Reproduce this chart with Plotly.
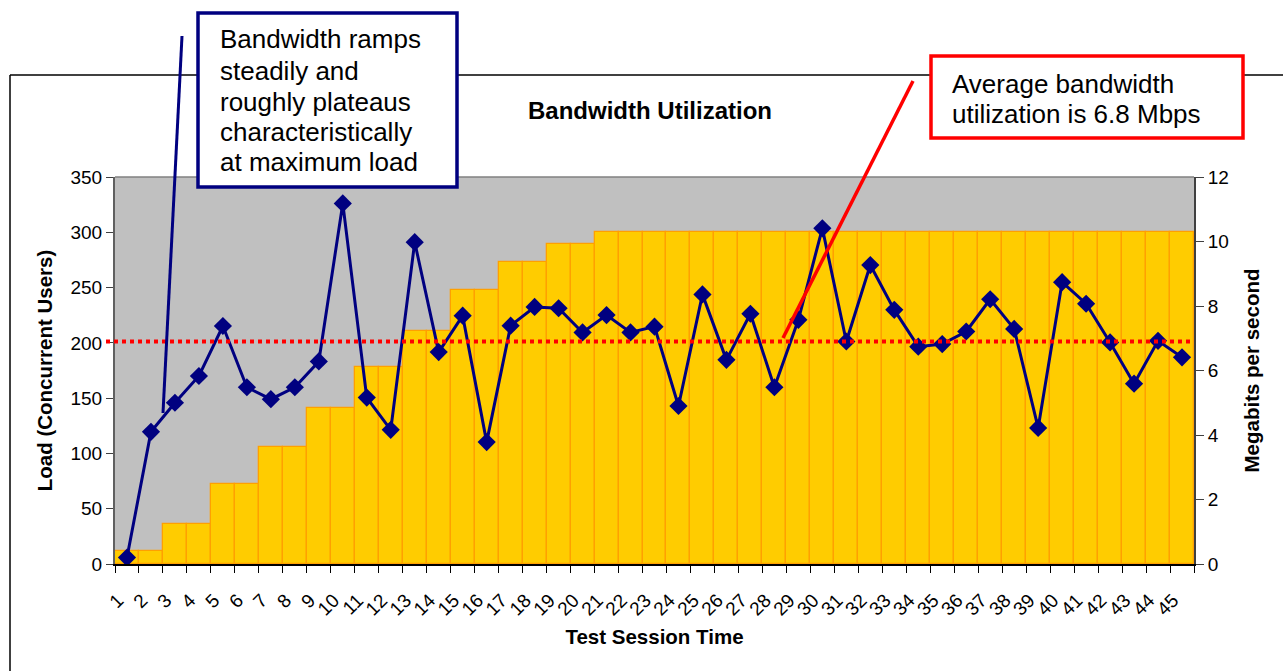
import plotly.graph_objects as go

# ---------------- data ----------------
categories = [str(i) for i in range(1, 46)]
load_users = [12, 12, 36, 36, 72, 72, 106, 106, 141, 141,
              178, 178, 211, 211, 248, 248, 273, 273, 289, 289,
              300, 300, 300, 300, 300, 300, 300, 300, 300, 300,
              300, 300, 300, 300, 300, 300, 300, 300, 300, 300,
              300, 300, 300, 300, 300]
mbps = [0.2, 4.1, 5.0, 5.83, 7.38, 5.48, 5.11, 5.48, 6.28, 11.18,
        5.16, 4.16, 9.98, 6.57, 7.70, 3.78, 7.39, 7.97, 7.93, 7.18,
        7.72, 7.18, 7.36, 4.90, 8.36, 6.33, 7.76, 5.48, 7.57, 10.41,
        6.90, 9.27, 7.88, 6.74, 6.82, 7.21, 8.21, 7.29, 4.22, 8.74,
        8.07, 6.87, 5.59, 6.92, 6.41]
avg_line_mbps = 6.9
left_ticks = [0, 50, 100, 150, 200, 250, 300, 350]
right_ticks = [0, 2, 4, 6, 8, 10, 12]

title_text = "Bandwidth Utilization"
note1 = ["Bandwidth ramps", "steadily and", "roughly plateaus",
         "characteristically", "at maximum load"]
note2 = ["Average bandwidth", "utilization is 6.8 Mbps"]

FONT = "Arial, Liberation Sans, sans-serif"
W, H = 1283, 671
PL, PR, PT, PB = 115, 1194, 177, 564


def px(x):
    return (x - PL) / (PR - PL)


def py(y):
    return (PB - y) / (PB - PT)


fig = go.Figure()
fig.add_trace(go.Bar(
    x=categories, y=load_users, yaxis="y",
    marker=dict(color="#FFCC00", line=dict(color="#FFA000", width=1.3)),
    hoverinfo="x+y",
))
fig.add_trace(go.Scatter(
    x=categories, y=mbps, yaxis="y2", mode="lines+markers",
    line=dict(color="#000080", width=3),
    marker=dict(symbol="diamond", size=14, color="#000080"),
))

shapes = []
shapes.append(dict(type="line", xref="paper", yref="y2",
                   x0=px(106), x1=px(1190), y0=avg_line_mbps, y1=avg_line_mbps,
                   line=dict(color="#FF0000", width=4, dash="dot"), layer="above"))
shapes.append(dict(type="line", xref="paper", yref="paper",
                   x0=px(10), x1=px(10), y0=py(700), y1=py(75),
                   line=dict(color="black", width=1.5)))
shapes.append(dict(type="line", xref="paper", yref="paper",
                   x0=px(10), x1=px(1300), y0=py(75), y1=py(75),
                   line=dict(color="black", width=1.5)))
shapes.append(dict(type="line", xref="paper", yref="paper",
                   x0=0, x1=1, y0=1, y1=1,
                   line=dict(color="#808080", width=1.5)))
shapes.append(dict(type="line", xref="paper", yref="paper",
                   x0=px(182), y0=py(36), x1=px(163), y1=py(413),
                   line=dict(color="#000080", width=3)))
shapes.append(dict(type="line", xref="paper", yref="paper",
                   x0=px(913), y0=py(81), x1=px(783), y1=py(338),
                   line=dict(color="#FF0000", width=3.5)))
shapes.append(dict(type="rect", xref="paper", yref="paper",
                   x0=px(198), x1=px(457), y0=py(13), y1=py(187),
                   fillcolor="white", line=dict(color="#000080", width=3.5)))
shapes.append(dict(type="rect", xref="paper", yref="paper",
                   x0=px(931), x1=px(1243), y0=py(56), y1=py(138),
                   fillcolor="white", line=dict(color="#FF0000", width=3.5)))

NOTE_SIZE = 26
annotations = [
    dict(text="<b>" + title_text + "</b>", xref="paper", yref="paper",
         x=px(650), y=py(110), xanchor="center", yanchor="middle",
         showarrow=False, font=dict(family=FONT, size=24, color="black")),
]
note1_baselines = [47, 79, 110, 140, 170]
for line_txt, base in zip(note1, note1_baselines):
    annotations.append(dict(text=line_txt, xref="paper", yref="paper",
                            x=px(218), y=py(base - 0.32 * NOTE_SIZE),
                            xanchor="left", yanchor="middle", showarrow=False,
                            font=dict(family=FONT, size=NOTE_SIZE, color="black")))
note2_baselines = [92, 122]
for line_txt, base in zip(note2, note2_baselines):
    annotations.append(dict(text=line_txt, xref="paper", yref="paper",
                            x=px(950), y=py(base - 0.32 * NOTE_SIZE),
                            xanchor="left", yanchor="middle", showarrow=False,
                            font=dict(family=FONT, size=NOTE_SIZE, color="black")))

fig.update_layout(
    width=W, height=H,
    margin=dict(l=PL, r=W - PR, t=PT, b=H - PB, pad=0),
    paper_bgcolor="white", plot_bgcolor="#C0C0C0",
    showlegend=False, bargap=0,
    font=dict(family=FONT, size=19, color="black"),
    shapes=shapes, annotations=annotations,
    xaxis=dict(type="category", tickson="boundaries", ticks="outside",
               range=[-0.5, len(categories) - 0.5],
               tickmode="array", tickvals=categories, ticktext=categories,
               ticklen=7, tickcolor="black", tickangle=-45,
               ticklabelstandoff=16, ticklabelshift=-9,
               showline=True, linecolor="black", linewidth=1.5,
               showgrid=False, zeroline=False,
               tickfont=dict(family=FONT, size=19),
               title=dict(text="<b>Test Session Time</b>",
                          font=dict(family=FONT, size=20.5), standoff=11)),
    yaxis=dict(range=[0, 350], tickvals=left_ticks, ticks="outside",
               ticklen=7, tickcolor="#404040", showline=True,
               linecolor="#606060", linewidth=2, showgrid=False,
               zeroline=False, tickfont=dict(family=FONT, size=19),
               title=dict(text="<b>Load (Concurrent Users)</b>",
                          font=dict(family=FONT, size=20.5), standoff=12)),
    yaxis2=dict(range=[0, 12], tickvals=right_ticks, overlaying="y",
                side="right", ticks="outside", ticklen=8,
                tickcolor="#404040", showline=True, linecolor="#404040",
                linewidth=2, showgrid=False, zeroline=False,
                tickfont=dict(family=FONT, size=19),
                title=dict(text="<b>Megabits per second</b>",
                           font=dict(family=FONT, size=20.5), standoff=17)),
)

fig.write_html("out.html", config={"displayModeBar": False},
               post_script="document.body.style.margin='0';")
